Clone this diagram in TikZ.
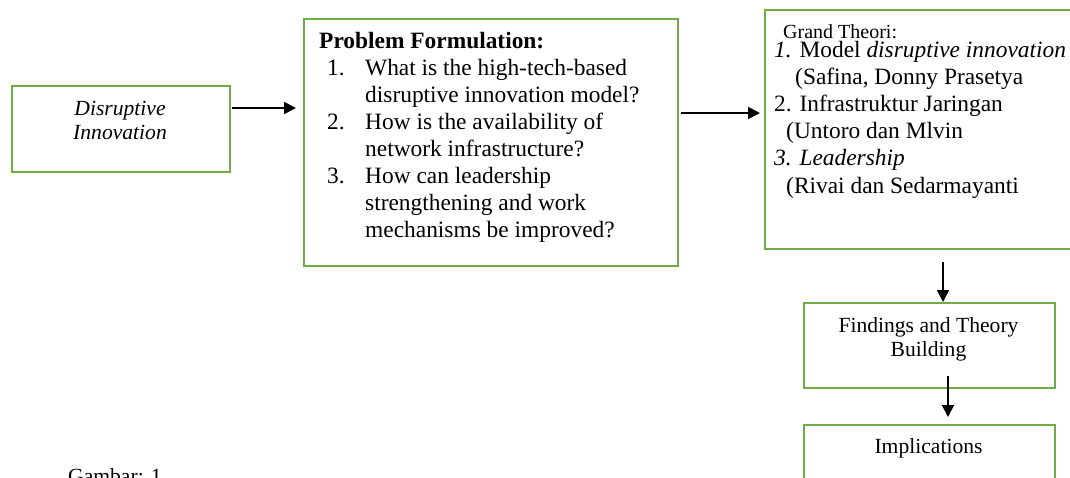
\documentclass[tikz,border=0pt]{standalone}
\usepackage{fontspec}
\setmainfont{Liberation Serif}
\usetikzlibrary{arrows.meta}
\definecolor{boxgreen}{RGB}{112,173,71}
\begin{document}
\begin{tikzpicture}[x=1pt,y=-1pt,
  box/.style={draw=boxgreen, line width=2pt, inner sep=0pt, anchor=north west},
  ln/.style={anchor=base west, inner sep=0pt, font=\fontsize{23.4}{27}\selectfont},
  sm/.style={anchor=base, inner sep=0pt, font=\fontsize{21.6}{25}\selectfont},
  arr/.style={-{Triangle[length=12pt,width=12pt]}, line width=1.8pt}]
\useasboundingbox (0,0) rectangle (1070,477);
% boxes
\node[box, minimum width=218pt, minimum height=86pt] (dis) at (11,85) {};
\node[box, minimum width=374pt, minimum height=247pt] (prob) at (303,18) {};
\node[box, minimum width=320pt, minimum height=239pt] (grand) at (764,9) {};
\node[box, minimum width=251pt, minimum height=85pt] (find) at (803,302) {};
\node[box, minimum width=251pt, minimum height=85pt] (impl) at (803,424) {};
% disruptive innovation
\node[sm, font=\itshape\fontsize{21.6}{25}\selectfont] (d1) at (120,115) {Disruptive};
\node[sm, font=\itshape\fontsize{21.6}{25}\selectfont] (d2) at (120,139) {Innovation};
% problem formulation
\node[ln, font=\bfseries\fontsize{23.4}{27}\selectfont] (p0) at (319,48) {Problem Formulation:};
\node[ln] (n1) at (327,75.1) {1.};
\node[ln] (p1) at (365,75.1) {What is the high-tech-based};
\node[ln] (p2) at (365,102.2) {disruptive innovation model?};
\node[ln] (n2) at (327,129.3) {2.};
\node[ln] (p3) at (365,129.3) {How is the availability of};
\node[ln] (p4) at (365,156.4) {network infrastructure?};
\node[ln] (n3) at (327,183.5) {3.};
\node[ln] (p5) at (365,183.5) {How can leadership};
\node[ln] (p6) at (365,210.6) {strengthening and work};
\node[ln] (p7) at (365,237.7) {mechanisms be improved?};
% grand theori
\node[ln, font=\fontsize{20}{23}\selectfont] (g0) at (783,38.5) {Grand Theori:};
\node[ln] (g1) at (774,57) {\textit{1.} Model \textit{disruptive innovation}};
\node[ln] (g2) at (795,84) {(Safina, Donny Prasetya};
\node[ln] (g3) at (774,111) {2. Infrastruktur Jaringan};
\node[ln] (g4) at (786,138) {(Untoro dan Mlvin};
\node[ln] (g5) at (774,165) {\textit{3. Leadership}};
\node[ln] (g6) at (786,193) {(Rivai dan Sedarmayanti};
% findings / implications
\node[sm] (f1) at (928.5,332) {Findings and Theory};
\node[sm] (f2) at (928.5,356) {Building};
\node[sm] (i1) at (928.5,453) {Implications};
% caption
\node[anchor=base west, inner sep=0pt, font=\fontsize{21.6}{25}\selectfont] (cap) at (68,483) {Gambar: 1};
% arrows
\coordinate (a1s) at (232,108); \coordinate (a1e) at (296,108);
\coordinate (a2s) at (681,113); \coordinate (a2e) at (760,113);
\coordinate (a3s) at (943,262); \coordinate (a3e) at (943,302);
\coordinate (a4s) at (948,376); \coordinate (a4e) at (948,417);
\draw[arr] (a1s) -- (a1e);
\draw[arr] (a2s) -- (a2e);
\draw[arr] (a3s) -- (a3e);
\draw[arr] (a4s) -- (a4e);
\end{tikzpicture}
\end{document}
